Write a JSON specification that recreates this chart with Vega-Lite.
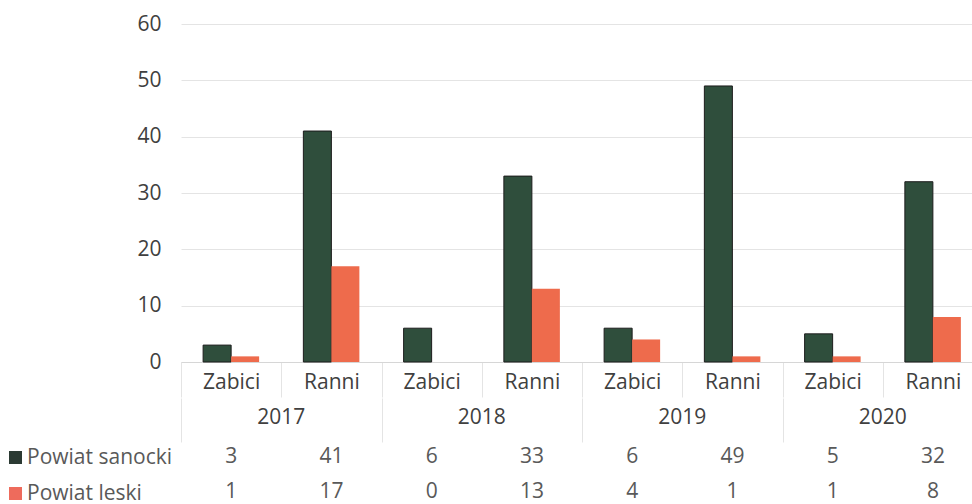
{
  "$schema": "https://vega.github.io/schema/vega-lite/v6.json",
  "padding": {"left": 0, "top": 13, "right": 0, "bottom": 0},
  "config": {
    "view": {"stroke": null},
    "font": "Open Sans",
    "axis": {"labelFont": "Open Sans"},
    "legend": {"labelFont": "Open Sans"}
  },
  "datasets": {
    "rows": [
      {"year": "2017", "category": "Zabici", "key": "2017|Zabici", "series": "Powiat sanocki", "value": 3},
      {"year": "2017", "category": "Zabici", "key": "2017|Zabici", "series": "Powiat leski", "value": 1},
      {"year": "2017", "category": "Ranni", "key": "2017|Ranni", "series": "Powiat sanocki", "value": 41},
      {"year": "2017", "category": "Ranni", "key": "2017|Ranni", "series": "Powiat leski", "value": 17},
      {"year": "2018", "category": "Zabici", "key": "2018|Zabici", "series": "Powiat sanocki", "value": 6},
      {"year": "2018", "category": "Zabici", "key": "2018|Zabici", "series": "Powiat leski", "value": 0},
      {"year": "2018", "category": "Ranni", "key": "2018|Ranni", "series": "Powiat sanocki", "value": 33},
      {"year": "2018", "category": "Ranni", "key": "2018|Ranni", "series": "Powiat leski", "value": 13},
      {"year": "2019", "category": "Zabici", "key": "2019|Zabici", "series": "Powiat sanocki", "value": 6},
      {"year": "2019", "category": "Zabici", "key": "2019|Zabici", "series": "Powiat leski", "value": 4},
      {"year": "2019", "category": "Ranni", "key": "2019|Ranni", "series": "Powiat sanocki", "value": 49},
      {"year": "2019", "category": "Ranni", "key": "2019|Ranni", "series": "Powiat leski", "value": 1},
      {"year": "2020", "category": "Zabici", "key": "2020|Zabici", "series": "Powiat sanocki", "value": 5},
      {"year": "2020", "category": "Zabici", "key": "2020|Zabici", "series": "Powiat leski", "value": 1},
      {"year": "2020", "category": "Ranni", "key": "2020|Ranni", "series": "Powiat sanocki", "value": 32},
      {"year": "2020", "category": "Ranni", "key": "2020|Ranni", "series": "Powiat leski", "value": 8}
    ]
  },
  "spacing": 0,
  "resolve": {"scale": {"color": "independent", "x": "independent", "y": "independent"}, "legend": {"color": "independent"}},
  "vconcat": [
    {
      "width": 802,
      "height": 338,
      "data": {"name": "rows"},
      "mark": {"type": "bar", "strokeWidth": 1},
      "encoding": {
        "x": {
          "field": "key", "type": "nominal", "sort": null,
          "scale": {"paddingInner": 0, "paddingOuter": 0},
          "axis": {
            "title": null, "labelAngle": 0,
            "labelExpr": "split(datum.value, '|')[1]",
            "tickBand": "extent", "tickSize": 35, "tickColor": "#e4e4e4",
            "domainColor": "#d6d6d6", "labelPadding": -26,
            "labelBaseline": "top",
            "labelFontSize": 21, "labelColor": "#404040"
          }
        },
        "xOffset": {
          "field": "series", "type": "nominal",
          "sort": ["Powiat sanocki", "Powiat leski"],
          "scale": {"paddingInner": 0, "paddingOuter": 0.79}
        },
        "y": {
          "field": "value", "type": "quantitative",
          "scale": {"domain": [0, 60]},
          "axis": {
            "title": null, "values": [0, 10, 20, 30, 40, 50, 60],
            "ticks": false, "domain": false, "gridColor": "#e4e4e4",
            "labelFontSize": 21, "labelColor": "#404040", "labelPadding": 20
          }
        },
        "color": {
          "field": "series", "type": "nominal",
          "scale": {"domain": ["Powiat sanocki", "Powiat leski"], "range": ["#2F4E3C", "#EE6B4C"]},
          "legend": null
        },
        "stroke": {
          "field": "series", "type": "nominal",
          "scale": {"domain": ["Powiat sanocki", "Powiat leski"], "range": ["#1c1c1c", "rgba(0,0,0,0)"]},
          "legend": null
        }
      }
    },
    {
      "width": 802,
      "height": 44,
      "data": {"name": "rows"},
      "transform": [{"aggregate": [{"op": "count", "as": "n"}], "groupby": ["year"]}],
      "mark": {"type": "text", "fontSize": 21, "color": "#404040", "baseline": "middle", "dy": -2},
      "encoding": {
        "x": {
          "field": "year", "type": "nominal",
          "scale": {"paddingInner": 0, "paddingOuter": 0},
          "axis": {"title": null, "labels": false, "ticks": false, "domain": false, "grid": true, "tickBand": "extent", "gridColor": "#e4e4e4"}
        },
        "text": {"field": "year"}
      }
    },
    {
      "width": 802,
      "height": 65,
      "data": {"name": "rows"},
      "layer": [
        {
          "mark": {"type": "text", "fontSize": 21, "color": "#595959", "baseline": "middle"},
          "encoding": {
            "x": {"field": "key", "type": "nominal", "sort": null, "axis": null, "scale": {"paddingInner": 0, "paddingOuter": 0}},
            "y": {"field": "series", "type": "nominal", "sort": ["Powiat sanocki", "Powiat leski"], "axis": null, "scale": {"type": "point", "padding": 0.4286}},
            "text": {"field": "value"}
          }
        },
        {
          "mark": {"type": "point", "shape": "square", "filled": true, "opacity": 0},
          "encoding": {
            "x": {"field": "key", "type": "nominal", "sort": null, "axis": null},
            "y": {"field": "series", "type": "nominal", "sort": ["Powiat sanocki", "Powiat leski"], "axis": null},
            "color": {
              "field": "series", "type": "nominal",
              "scale": {"domain": ["Powiat sanocki", "Powiat leski"], "range": ["#2B3A33", "#EE6B5C"]},
              "legend": {
                "title": null, "orient": "left", "symbolType": "square", "symbolSize": 169,
                "symbolOpacity": 1, "symbolStrokeWidth": 0,
                "labelFontSize": 21, "labelColor": "#595959", "labelOffset": 1,
                "rowPadding": 14, "padding": 5, "offset": 3
              }
            }
          }
        }
      ]
    }
  ]
}
